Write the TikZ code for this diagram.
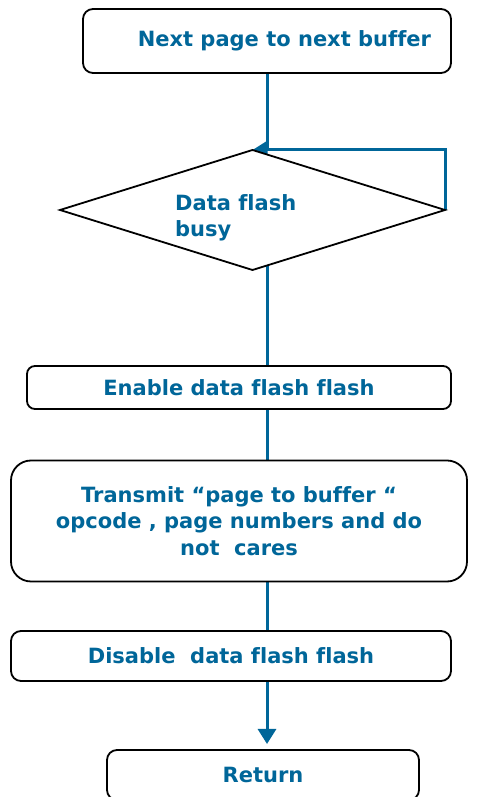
\documentclass[tikz,border=0pt]{standalone}
\usepackage{fontspec}
\setmainfont[Ligatures={NoCommon}]{DejaVu Sans}
\usetikzlibrary{shapes.geometric,arrows.meta,backgrounds}

\begin{document}
\begin{tikzpicture}[x=1pt,y=1pt,
  stepbox/.style={draw=black,line width=1.8pt,fill=white,text=flowBlue,font=\fontsize{21}{26.5}\selectfont\bfseries,inner sep=0pt,outer sep=0pt,align=center},
  decide/.style={diamond,draw=black,line width=1.8pt,fill=white,inner sep=0pt,outer sep=0pt},
  decidetext/.style={text=flowBlue,font=\fontsize{21}{26.5}\selectfont\bfseries,inner sep=0pt,align=left},
  flowline/.style={draw=flowBlue,line width=3pt},
  flowarrow/.style={flowline,-{Triangle[length=15pt,width=18pt]}}]
\definecolor{flowBlue}{RGB}{0,102,153}
\path[use as bounding box] (0,0) rectangle (483,797);
\begin{scope}
\path[clip] (0,0) rectangle (483,797);

\node[stepbox,rounded corners=10pt,minimum width=368pt,minimum height=64pt,text width=328pt,align=flush right] (top) at (267,756) {Next page to next buffer};

\node[decide,minimum width=385pt,minimum height=120pt] (busy) at (252.5,587) {};

\node[decidetext,anchor=north west] (busytext) at (175,603) {Data flash\\busy};

\node[stepbox,rounded corners=8pt,minimum width=424pt,minimum height=43pt] (enable) at (239,409.5) {Enable data flash flash};

\node[stepbox,rounded corners=20pt,minimum width=456pt,minimum height=121pt] (xmit) at (239,276) {Transmit “page to buffer “\\opcode , page numbers and do\\not\ \ cares};

\node[stepbox,rounded corners=10pt,minimum width=440pt,minimum height=50pt] (disable) at (231,141) {Disable\ \ data flash flash};

\node[stepbox,rounded corners=10pt,minimum width=312pt,minimum height=50pt] (ret) at (263,22) {Return};
\end{scope}
\begin{scope}[on background layer]
\draw[flowline] (top.south) -- (top.south |- busy.north);
\draw[flowarrow] (busy.east) |- (busy.north);
\draw[flowline] (top.south |- busy.center) -- (top.south |- enable.north);
\draw[flowline] (top.south |- enable.south) -- (top.south |- xmit.north);
\draw[flowline] (top.south |- xmit.south) -- (top.south |- disable.north);
\draw[flowarrow,shorten >=6pt] (top.south |- disable.south) -- (top.south |- ret.north);
\end{scope}
\end{tikzpicture}
\end{document}
